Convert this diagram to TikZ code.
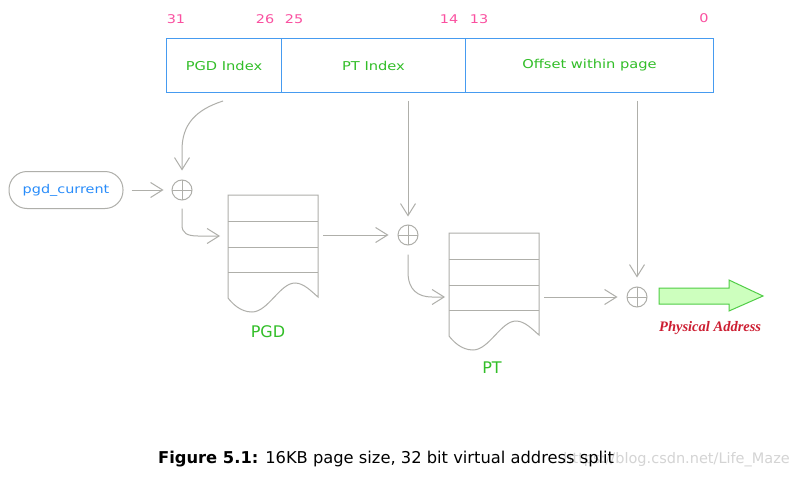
\documentclass[tikz,border=0pt]{standalone}
\usepackage{fontspec}
\setmainfont{DejaVu Sans}
\newfontfamily\pixfont{DejaVu Sans}[FakeStretch=1.2]
\newfontfamily\physfont{Liberation Serif}
\usetikzlibrary{arrows.meta,calc}
\definecolor{barblue}{RGB}{70,155,240}
\definecolor{numpink}{RGB}{250,80,160}
\definecolor{lblgreen}{RGB}{50,190,40}
\definecolor{linegray}{RGB}{175,175,170}
\definecolor{curblue}{RGB}{40,140,250}
\definecolor{physred}{RGB}{205,30,50}
\definecolor{arrfill}{RGB}{205,255,190}
\definecolor{arrdraw}{RGB}{80,205,70}
\definecolor{wmgray}{RGB}{212,212,212}
\tikzset{
  cell/.style={draw=barblue, line width=1pt, minimum height=54pt, inner sep=0pt,
    anchor=north west, text=lblgreen, font=\pixfont\fontsize{12.2}{13}\selectfont},
  num/.style={text=numpink, inner sep=0pt, font=\pixfont\fontsize{12}{12}\selectfont},
  oplus/.style={circle, draw=linegray, line width=1pt, minimum size=20pt, inner sep=0pt,
    path picture={\draw[linegray, line width=0.8pt]
      (path picture bounding box.north) -- (path picture bounding box.south)
      (path picture bounding box.west) -- (path picture bounding box.east);}},
  conn/.style={draw=linegray, line width=1pt, -{Straight Barb[length=12pt,width=15pt]}},
  tbl/.style={draw=linegray, line width=1pt},
  tlabel/.style={text=lblgreen, inner sep=0pt, font=\fontsize{16}{16}\selectfont},
  memtable/.pic={
    \draw[tbl] (0,103) -- (0,0) -- (90,0) -- (90,102)
      .. controls (84,97) and (76,88) .. (67,88)
      .. controls (52,88) and (40,117) .. (24,117)
      .. controls (12,117) and (4,108) .. (0,103);
    \draw[tbl] (0,26) -- (90,26) (0,52) -- (90,52) (0,77) -- (90,77);
    \coordinate (-nw) at (0,0);
  }
}
\begin{document}
\begin{tikzpicture}[x=1pt,y=-1pt]
\useasboundingbox (0,0) rectangle (802,476);
\fill[white] (0,0) rectangle (802,476);

% address bar
\node[cell, minimum width=115pt] (pgdidx) at (166,38) {PGD Index};
\node[cell, minimum width=184pt] (ptidx) at (281,38) {\raisebox{-3pt}{PT Index}};
\node[cell, minimum width=248pt] (offidx) at (465,38) {\raisebox{1pt}{Offset within page}};

\node[num] (n31) at (176,19) {31};
\node[num] (n26) at (265,19) {26};
\node[num] (n25) at (294,19) {25};
\node[num] (n14) at (449,19) {14};
\node[num] (n13) at (479,19) {13};
\node[num] (n0) at (704,18) {0};

% pgd_current
\node[draw=linegray, line width=1pt, rounded corners=18pt, minimum width=114pt, minimum height=37pt,
  text=curblue, font=\pixfont\fontsize{12}{12}\selectfont] (pgdc) at (66,190) {pgd\_current};

% adders
\node[oplus] (c1) at (182,190) {};
\node[oplus] (c2) at (408,235) {};
\node[oplus] (c3) at (637,297) {};

% tables
\pic (pgd) at (228,195) {memtable};
\pic (pt) at (449,233) {memtable};
\node[tlabel] (pgdlbl) at (268,332) {PGD};
\node[tlabel] (ptlbl) at (492,368) {PT};

% connectors
\draw[conn] ($(pgdc.east)+(8,0)$) -- ($(c1.west)+(-8,0)$);
\draw[conn] ($(pgdidx.south)+(-1,8)$) .. controls (195,110) and (182,125) .. (182,150) -- ($(c1.north)+(0,-9)$);
\draw[conn] ($(c1.south)+(0,8)$) -- (182,225) .. controls (182,233) and (187,236) .. (198,236) -- ($(pgd-nw)+(-8,41)$);
\draw[conn] ($(pgd-nw)+(95,40)$) -- ($(c2.west)+(-9,0)$);
\draw[conn] ($(c2.north |- ptidx.south)+(0,8)$) -- ($(c2.north)+(0,-8)$);
\draw[conn] ($(c2.south)+(0,9)$) -- (408,272) .. controls (408,290) and (418,297) .. (432,297) -- ($(pt-nw)+(-4,64)$);
\draw[conn] ($(pt-nw)+(95,64)$) -- ($(c3.west)+(-9,0)$);
\draw[conn] ($(c3.north |- offidx.south)+(0,8)$) -- ($(c3.north)+(0,-9)$);

% physical address arrow
\draw[draw=arrdraw, fill=arrfill, line width=1pt]
  (659,288) -- (729,288) -- (729,280) -- (763,296) -- (729,311) -- (729,304) -- (659,304) -- cycle;
\begin{scope}
  \clip (655,314) rectangle (762,342);
  \node[anchor=west, inner sep=0pt, text=physred, font=\physfont\itshape\bfseries\fontsize{14.5}{15}\selectfont] (phys) at (659,328) {Physical Address};
\end{scope}

% caption
\node[anchor=base east, inner sep=0pt, text=wmgray, font=\fontsize{14.5}{15}\selectfont] (wm) at (790,463) {https://blog.csdn.net/Life\_Maze};
\node[anchor=base west, inner sep=0pt, font=\fontsize{16.3}{17}\selectfont] (cap) at (158,463) {\textbf{Figure 5.1:} 16KB page size, 32 bit virtual address split};
\end{tikzpicture}
\end{document}
